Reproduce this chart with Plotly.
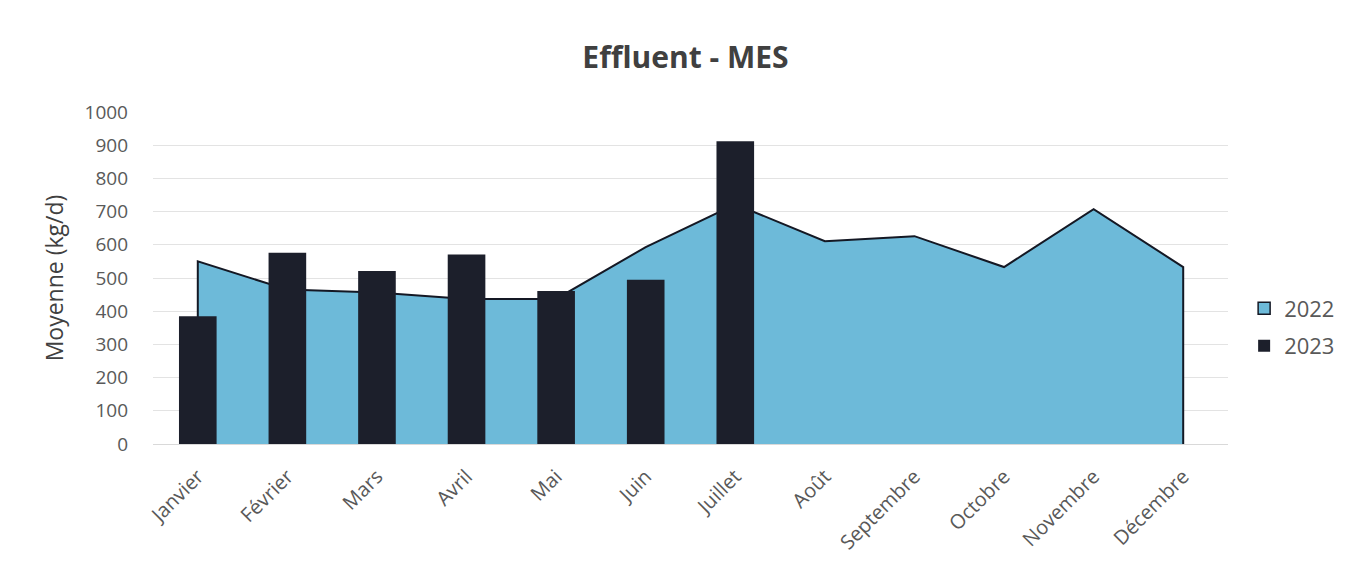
import plotly.graph_objects as go

months = ["Janvier", "Février", "Mars", "Avril", "Mai", "Juin", "Juillet",
          "Août", "Septembre", "Octobre", "Novembre", "Décembre"]
values_2022 = [550, 465, 456, 437, 437, 593, 722, 611, 626, 533, 707, 533]
months_2023 = months[:7]
values_2023 = [385, 576, 521, 571, 461, 495, 912]
y_ticks = [0, 100, 200, 300, 400, 500, 600, 700, 800, 900, 1000]

FONT = "Open Sans"
GRAY = "#595959"
BLUE = "#6dbad9"
OUTLINE = "#141824"
NAVY = "#1c1f2b"

# outline of the area: closed down to the baseline at both ends
area_x = [months[0]] + months + [months[-1]]
area_y = [0] + values_2022 + [0]

fig = go.Figure()
fig.add_trace(go.Scatter(
    x=area_x, y=area_y, name="2022", mode="lines",
    fill="tozeroy", fillcolor=BLUE,
    line=dict(color=OUTLINE, width=2),
    showlegend=False, hoverinfo="skip",
    xaxis="x", yaxis="y",
))
# legend entry for the 2022 area (square swatch as in the original)
fig.add_trace(go.Bar(
    x=[None], y=[None], name="2022", legendgroup="a",
    marker=dict(color=BLUE, line=dict(color=OUTLINE, width=1.5)),
    xaxis="x", yaxis="y",
))
fig.add_trace(go.Bar(
    x=months_2023, y=values_2023, name="2023", legendgroup="b",
    marker=dict(color=NAVY, line=dict(width=0)),
    xaxis="x2", yaxis="y2",
))

fig.update_layout(
    width=1353, height=564,
    margin=dict(l=145, r=133, t=104, b=128),
    paper_bgcolor="white", plot_bgcolor="white",
    font=dict(family=FONT, color=GRAY, size=19),
    title=dict(text="<b>Effluent - MES</b>", x=0.5007, xanchor="center",
               y=0.912, yanchor="middle",
               font=dict(family=FONT, size=30, color="#404040")),
    bargap=0.58,
    barmode="overlay",
    showlegend=True,
    legend=dict(x=1.015, xanchor="left", y=0.351, yanchor="middle",
                traceorder="grouped", tracegroupgap=6,
                font=dict(size=22, color=GRAY),
                itemwidth=30, bgcolor="rgba(0,0,0,0)"),
    xaxis=dict(type="category", categoryorder="array", categoryarray=months,
               range=[-0.5, 11.5], tickangle=-45, showgrid=False,
               showline=True, linecolor="#d9d9d9", linewidth=1,
               ticks="", ticklabelstandoff=12,
               tickfont=dict(size=20, color=GRAY)),
    xaxis2=dict(type="category", categoryorder="array", categoryarray=months,
                range=[-0.5, 11.5], overlaying="x", showticklabels=False,
                showgrid=False, showline=False, anchor="y2"),
    yaxis=dict(range=[0, 1000], tickvals=y_ticks, showgrid=True,
               gridcolor="#e3e3e3", gridwidth=1, zeroline=False,
               showline=False, ticks="", ticklabelstandoff=24,
               title=dict(text="Moyenne (kg/d)", standoff=14,
                          font=dict(size=23, color="#404040")),
               tickfont=dict(size=19, color=GRAY)),
    yaxis2=dict(range=[0, 1000], overlaying="y", showticklabels=False,
                showgrid=False, zeroline=False, anchor="x2"),
)

fig.write_html("out.html")
